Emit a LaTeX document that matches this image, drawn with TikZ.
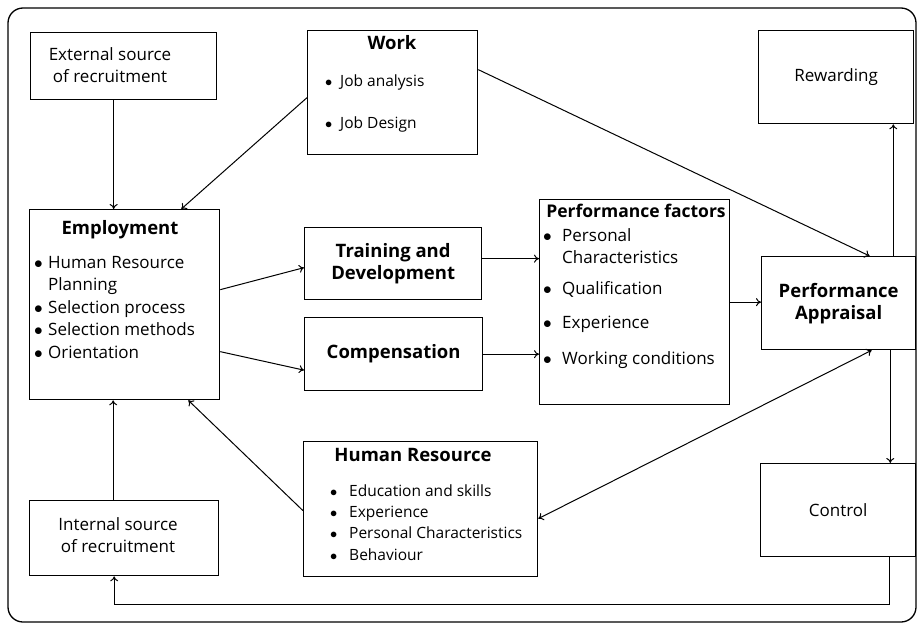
\documentclass[tikz,border=0pt]{standalone}
\usepackage{fontspec}
\setmainfont{Open Sans}
\usepackage{tikz}
\usetikzlibrary{arrows.meta}
\tikzstyle{box} = [draw, line width=1.3pt, anchor=north west, inner sep=0pt, align=center]
\tikzstyle{head} = [font=\bfseries\fontsize{18.5}{22}\selectfont]
\tikzstyle{txt} = [font=\fontsize{17}{22}\selectfont, align=center, inner sep=0pt, anchor=base]
\tikzstyle{list} = [align=left, inner sep=0pt, anchor=base west]
\tikzstyle{link} = [-{To[length=5pt, width=8pt]}, line width=1pt]
\newcommand{\bpt}[1][15pt]{\makebox[#1][l]{$\bullet$}}

\begin{document}
\begin{tikzpicture}[x=1pt, y=-1pt]
\useasboundingbox (0,0) rectangle (917,624);
\draw[line width=1.3pt, rounded corners=15pt] (8,8) rectangle (916,622);

\node[box, minimum width=186pt, minimum height=67pt] (ext) at (30,32) {};
\node[box, minimum width=170pt, minimum height=124pt] (work) at (307,30) {};
\node[box, minimum width=155pt, minimum height=93pt, font=\fontsize{17}{22}\selectfont] (rew) at (758,30) {Rewarding};
\node[box, minimum width=190pt, minimum height=190pt] (emp) at (29,209) {};
\node[box, head, minimum width=177pt, minimum height=72pt] (train) at (304,227) {Training and\\Development};
\node[box, head, minimum width=178pt, minimum height=73pt] (comp) at (304,317) {Compensation};
\node[box, minimum width=190pt, minimum height=205pt] (pf) at (539,199) {};
\node[box, head, minimum width=154pt, minimum height=93pt] (appr) at (761,256) {Performance\\Appraisal};
\node[box, minimum width=234pt, minimum height=135pt] (hr) at (303,441) {};
\node[box, minimum width=155pt, minimum height=93pt, font=\fontsize{17}{22}\selectfont] (ctrl) at (760,463) {Control};
\node[box, minimum width=189pt, minimum height=75pt] (int) at (29,500) {};

\node[txt] (ext-t) at (110,82) {External source\\of recruitment};
\node[txt] (int-t) at (118,552) {Internal source\\of recruitment};
\node[txt, head] (work-t) at (392,49) {Work};
\node[list, font=\fontsize{15.5}{42}\selectfont] (work-l) at (325,128) {\bpt Job analysis\\\bpt Job Design};
\node[txt, head] (emp-t) at (120,234) {Employment};
\node[list, font=\fontsize{17}{22.5}\selectfont] (emp-l) at (34,358)
  {\bpt[14pt]Human Resource\\\hspace*{14pt}Planning\\\bpt[14pt]Selection process\\\bpt[14pt]Selection methods\\\bpt[14pt]Orientation};
\node[txt, head, font=\bfseries\fontsize{17.5}{22}\selectfont] (pf-t) at (636,217) {Performance factors};
\node[list, font=\fontsize{17}{22}\selectfont] (pf-l) at (543,364)
  {\bpt[19pt]Personal\\\hspace*{19pt}Characteristics\\[9pt]\bpt[19pt]Qualification\\[12pt]\bpt[19pt]Experience\\[14pt]\bpt[19pt]Working conditions};
\node[txt, head] (hr-t) at (413,461) {Human Resource};
\node[list, font=\fontsize{15.5}{21.3}\selectfont] (hr-l) at (330,560)
  {\bpt[19pt]Education and skills\\\bpt[19pt]Experience\\\bpt[19pt]Personal Characteristics\\\bpt[19pt]Behaviour};

\draw[link] ([xshift=-10pt]ext.south) -- ([xshift=-10pt]ext.south |- emp.north);
\draw[link] ([yshift=-5pt]work.west) -- ([xshift=-39pt]emp.north east);
\draw[link] ([yshift=23pt]work.east) -- ([xshift=31pt]appr.north);
\draw[link] ([yshift=15pt]emp.east) -- ([yshift=-4pt]train.west);
\draw[link] ([yshift=-47pt]emp.east) -- ([yshift=-16pt]comp.west);
\draw[link] ([yshift=5pt]train.east) -- ([yshift=5pt]train.east -| pf.west);
\draw[link] (comp.east) -- (comp.east -| pf.west);
\draw[link] (pf.east) -- (pf.east -| appr.west);
\draw[link] ([xshift=-23pt]appr.north east) -- ([xshift=-23pt]appr.north east |- rew.south);
\draw[link] ([xshift=-26pt]appr.south east) -- ([xshift=-26pt]appr.south east |- ctrl.north);
\draw[link] ([xshift=-27pt]ctrl.south east) -- ++(0,47) -| ([xshift=-10pt]int.south);
\draw[link] ([xshift=-11pt]int.north) -- ([xshift=-11pt]int.north |- emp.south);
\draw[link] ([yshift=-1.5pt]hr.west) -- ([xshift=-32pt]emp.south east);
\draw[link, {To[length=5pt, width=8pt]}-{To[length=5pt, width=8pt]}] ([yshift=-9.5pt]hr.east) -- ([xshift=33pt]appr.south);
\end{tikzpicture}
\end{document}
